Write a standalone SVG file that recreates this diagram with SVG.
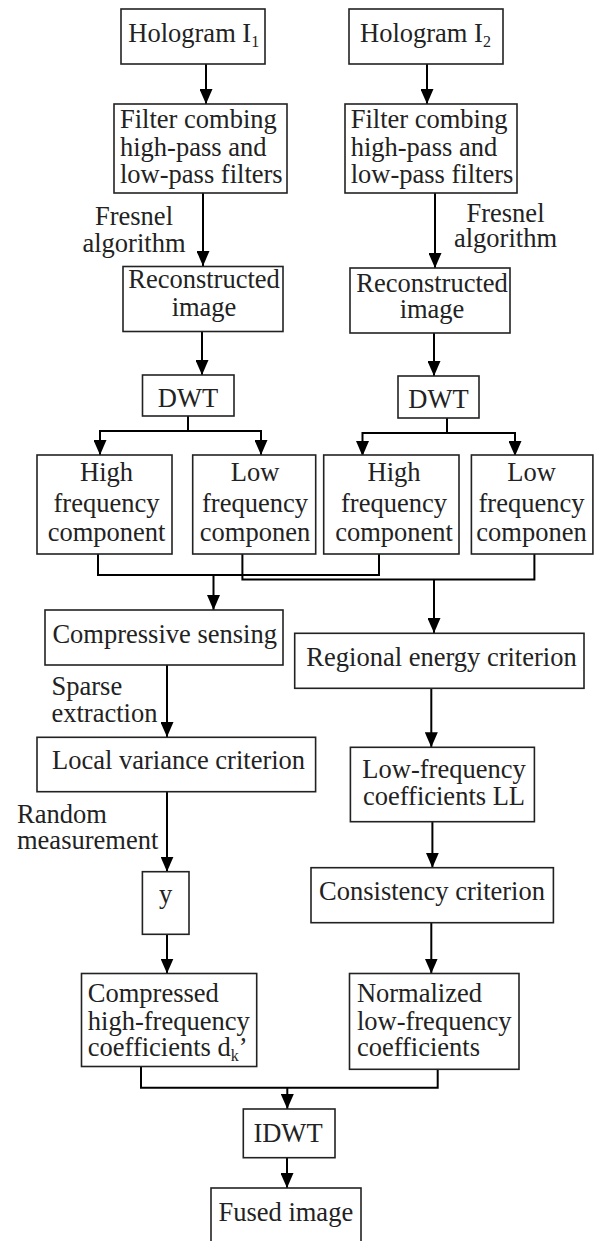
<svg xmlns="http://www.w3.org/2000/svg" width="597" height="1241" viewBox="0 0 597 1241">
<style>
.box{fill:#fff;stroke:#222;stroke-width:1.6}
text{font-family:"Liberation Serif","Times New Roman",serif;font-size:26.5px;fill:#222}
.c{text-anchor:middle}
.con{fill:none;stroke:#000;stroke-width:2}
.arr{fill:none;stroke:#000;stroke-width:2;marker-end:url(#ah)}
.sub{font-size:16px}
</style>
<defs>
<marker id="ah" markerUnits="userSpaceOnUse" viewBox="0 0 15 13" refX="15" refY="6.5" markerWidth="15" markerHeight="13" orient="auto">
<path d="M0,0 L15,6.5 L0,13 z" fill="#000"/>
</marker>
</defs>
<rect width="597" height="1241" fill="#fff"/>
<g id="connectors">
<line class="arr" x1="206" y1="64" x2="206" y2="104"/>
<line class="arr" x1="427" y1="64" x2="427" y2="104"/>
<line class="arr" x1="203" y1="193" x2="203" y2="266"/>
<line class="arr" x1="435" y1="193" x2="435" y2="268"/>
<line class="arr" x1="202" y1="331.5" x2="202" y2="375"/>
<line class="arr" x1="434" y1="333" x2="434" y2="376"/>
<path class="con" d="M188,416 V431 M100,431 H261"/>
<line class="arr" x1="100" y1="430" x2="100" y2="455"/>
<line class="arr" x1="261" y1="430" x2="261" y2="455"/>
<path class="con" d="M447,418 V433 M362.5,433 H515"/>
<line class="arr" x1="362.5" y1="432" x2="362.5" y2="456"/>
<line class="arr" x1="515" y1="432" x2="515" y2="456"/>
<path class="con" d="M98,554 V575 H379 V554"/>
<path class="con" d="M242.4,554 V579.5 H534.4 V554"/>
<line class="arr" x1="213.5" y1="575" x2="213.5" y2="610"/>
<line class="arr" x1="434" y1="579.5" x2="434" y2="633"/>
<line class="arr" x1="167" y1="665" x2="167" y2="737"/>
<line class="arr" x1="431.3" y1="688.3" x2="431.3" y2="747.3"/>
<line class="arr" x1="167" y1="791.7" x2="167" y2="871.7"/>
<line class="arr" x1="167" y1="934.3" x2="167" y2="973.5"/>
<line class="arr" x1="432.4" y1="821.7" x2="432.4" y2="867.7"/>
<line class="arr" x1="431.3" y1="922.7" x2="431.3" y2="973.5"/>
<path class="con" d="M141,1066.5 V1087.7 H437.7 V1069.3"/>
<line class="arr" x1="287.3" y1="1087" x2="287.3" y2="1109"/>
<line class="arr" x1="287" y1="1157.7" x2="287" y2="1188"/>
<text class="c"><tspan x="134" y="225">Fresnel</tspan><tspan x="134" y="251.5">algorithm</tspan></text>
<text class="c"><tspan x="505.5" y="221.7">Fresnel</tspan><tspan x="505.5" y="246.7">algorithm</tspan></text>
<text><tspan x="51.5" y="695">Sparse</tspan><tspan x="51.5" y="721.7">extraction</tspan></text>
<text><tspan x="17" y="823.3">Random</tspan><tspan x="17" y="849.3">measurement</tspan></text>
</g>
<g id="hologram1">
<rect class="box" x="121" y="9" width="144" height="55"/>
<text x="128.3" y="41.7">Hologram I<tspan class="sub" dy="5">1</tspan></text>
</g>
<g id="hologram2">
<rect class="box" x="349" y="9" width="154" height="55"/>
<text x="360" y="41.7">Hologram I<tspan class="sub" dy="5">2</tspan></text>
</g>
<g id="filter1">
<rect class="box" x="114" y="104" width="173" height="89"/>
<text><tspan x="120" y="128.3">Filter combing</tspan><tspan x="120" y="155.7">high-pass and</tspan><tspan x="120" y="182.7">low-pass filters</tspan></text>
</g>
<g id="filter2">
<rect class="box" x="345" y="104" width="172" height="89"/>
<text><tspan x="350.7" y="128.3">Filter combing</tspan><tspan x="350.7" y="155.7">high-pass and</tspan><tspan x="350.7" y="182.7">low-pass filters</tspan></text>
</g>
<g id="recon1">
<rect class="box" x="123" y="266.5" width="160" height="65"/>
<text class="c"><tspan x="204" y="288">Reconstructed</tspan><tspan x="204" y="316">image</tspan></text>
</g>
<g id="recon2">
<rect class="box" x="350" y="268" width="160" height="65"/>
<text class="c"><tspan x="432" y="291.7">Reconstructed</tspan><tspan x="432" y="318.3">image</tspan></text>
</g>
<g id="dwt1">
<rect class="box" x="142.5" y="375" width="91.5" height="41"/>
<text class="c" x="188" y="406.7">DWT</text>
</g>
<g id="dwt2">
<rect class="box" x="398" y="376" width="81" height="42"/>
<text class="c" x="438.5" y="407.5">DWT</text>
</g>
<g id="hf1">
<rect class="box" x="37" y="455" width="135" height="99"/>
<text class="c"><tspan x="106.5" y="481">High</tspan><tspan x="106.5" y="511.5">frequency</tspan><tspan x="106.5" y="541">component</tspan></text>
</g>
<g id="lf1">
<rect class="box" x="192.7" y="455" width="123" height="99"/>
<text class="c"><tspan x="255" y="481">Low</tspan><tspan x="255" y="511.5">frequency</tspan><tspan x="255" y="541">componen</tspan></text>
</g>
<g id="hf2">
<rect class="box" x="323.7" y="455" width="135.3" height="99"/>
<text class="c"><tspan x="394" y="481">High</tspan><tspan x="394" y="511.5">frequency</tspan><tspan x="394" y="541">component</tspan></text>
</g>
<g id="lf2">
<rect class="box" x="471.4" y="455" width="121.5" height="99"/>
<text class="c"><tspan x="531.5" y="481">Low</tspan><tspan x="531.5" y="511.5">frequency</tspan><tspan x="531.5" y="541">componen</tspan></text>
</g>
<g id="compressive">
<rect class="box" x="45" y="610" width="238" height="55"/>
<text class="c" x="164.7" y="643">Compressive sensing</text>
</g>
<g id="regional">
<rect class="box" x="294.7" y="633.3" width="289.3" height="55"/>
<text class="c" x="441.5" y="666">Regional energy criterion</text>
</g>
<g id="localvar">
<rect class="box" x="37" y="737.3" width="278.6" height="54.4"/>
<text class="c" x="178.6" y="769.3">Local variance criterion</text>
</g>
<g id="lowll">
<rect class="box" x="350.4" y="747.3" width="184" height="74.4"/>
<text class="c"><tspan x="444" y="778.3">Low-frequency</tspan><tspan x="444" y="805">coefficients LL</tspan></text>
</g>
<g id="y">
<rect class="box" x="142.4" y="871.7" width="46.6" height="62.6"/>
<text class="c" x="165.7" y="903">y</text>
</g>
<g id="consistency">
<rect class="box" x="311" y="867.7" width="242.4" height="55"/>
<text class="c" x="432" y="900">Consistency criterion</text>
</g>
<g id="compressed">
<rect class="box" x="81.5" y="973.5" width="175.2" height="93"/>
<text><tspan x="87.8" y="1001.7">Compressed</tspan><tspan x="87.8" y="1029.5">high-frequency</tspan><tspan x="87.8" y="1056">coefficients d</tspan><tspan class="sub" dy="5">k</tspan><tspan dy="-5">’</tspan></text>
</g>
<g id="normalized">
<rect class="box" x="349.5" y="973.5" width="169.5" height="95.8"/>
<text><tspan x="356.9" y="1001.7">Normalized</tspan><tspan x="356.9" y="1029.5">low-frequency</tspan><tspan x="356.9" y="1056">coefficients</tspan></text>
</g>
<g id="idwt">
<rect class="box" x="243.3" y="1109" width="91.7" height="48.7"/>
<text class="c" x="288" y="1141.7">IDWT</text>
</g>
<g id="fused">
<rect class="box" x="211" y="1188" width="150" height="70"/>
<text class="c" x="285.8" y="1220.7">Fused image</text>
</g>
</svg>
